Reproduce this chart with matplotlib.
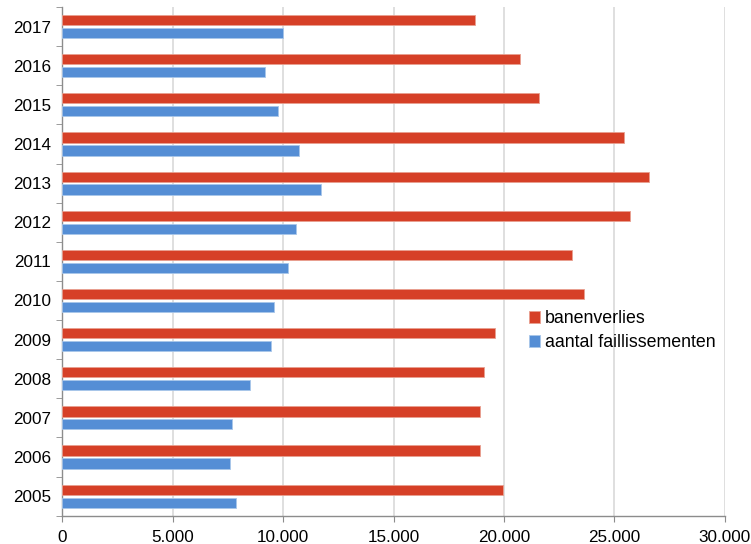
import numpy as np
import matplotlib
matplotlib.use("Agg")
import matplotlib.pyplot as plt
from matplotlib.ticker import FuncFormatter, FixedLocator

plt.rcParams['font.family'] = ['Liberation Sans', 'DejaVu Sans']

# data
jaren = ['2005', '2006', '2007', '2008', '2009', '2010', '2011',
         '2012', '2013', '2014', '2015', '2016', '2017']
banenverlies = [19970, 18920, 18930, 19110, 19610, 23630, 23100,
                25710, 26590, 25440, 21590, 20740, 18700]
faillissementen = [7880, 7610, 7690, 8490, 9440, 9570, 10240,
                   10600, 11730, 10730, 9770, 9170, 9980]

rood = '#D64027'
blauw = '#558ED5'

fig = plt.figure(figsize=(7.51, 5.44), dpi=100)
ax = fig.add_axes([62.3/751, 1 - 515.7/544, (724.7-62.3)/751, (515.7-7)/544])

y = np.arange(len(jaren))
h = 0.26
ax.barh(y + 0.165, banenverlies, height=h, color=rood, edgecolor='#E8A090',
        linewidth=0.6, label='banenverlies', zorder=3)
ax.barh(y - 0.165, faillissementen, height=h, color=blauw, edgecolor='#A8C6EA',
        linewidth=0.6, label='aantal faillissementen', zorder=3)

ax.set_xlim(0, 30000)
ax.set_ylim(-0.5, len(jaren) - 0.5)
ax.set_xticks(np.arange(0, 30001, 5000))
ax.xaxis.set_major_formatter(FuncFormatter(lambda v, p: f'{int(v):,}'.replace(',', '.')))
ax.set_yticks(y)
ax.set_yticklabels(jaren)
ax.yaxis.set_minor_locator(FixedLocator(np.arange(-0.5, len(jaren), 1)))

ax.grid(axis='x', color='#D9D9D9', linewidth=1.2, zorder=0)
for s in ['top', 'right']:
    ax.spines[s].set_visible(False)
for s in ['left', 'bottom']:
    ax.spines[s].set_color('#8C8C8C')
    ax.spines[s].set_linewidth(1.0)

ax.tick_params(axis='y', which='major', length=0, pad=8, labelsize=12.3)
ax.tick_params(axis='y', which='minor', length=4, color='#8C8C8C', direction='out')
ax.tick_params(axis='x', which='major', length=4, color='#8C8C8C', direction='out',
               pad=6, labelsize=12.3)

ax.legend(loc='upper left', bbox_to_anchor=(0.705, 0.404), frameon=False,
          fontsize=12.8, handlelength=0.6, handleheight=0.6, handletextpad=0.3,
          labelspacing=0.4, borderaxespad=0, borderpad=0)

fig.savefig('out.png', dpi=100)
